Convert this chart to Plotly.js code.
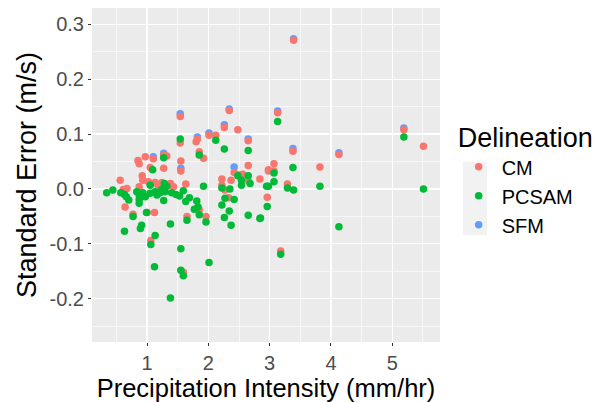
<!DOCTYPE html>
<html>
<head>
<meta charset="utf-8">
<script src="https://cdn.plot.ly/plotly-3.0.1.min.js"></script>
<style>html,body{margin:0;padding:0;background:#fff;}#chart{width:607px;height:402px;}</style>
</head>
<body>
<div id="chart"></div>
<script>
// CM series
var cmX = [1.54,2.34,2.48,1.54,1.82,1.80,2.01,2.12,2.26,2.65,1.85,1.92,0.85,0.87,0.97,1.10,1.27,1.32,1.05,1.27,1.55,2.65,2.98,3.39,3.13,5.19,5.51,3.38,4.13,3.07,3.07,3.82,2.84,3.29,2.96,3.18,1.55,2.42,2.48,2.56,0.92,0.93,0.56,1.02,1.13,1.18,1.24,1.38,1.43,1.63,2.22,2.37,2.27,2.65,0.64,0.77,1.00,1.12,1.65,1.85,1.96,2.33,0.61,0.67,0.87,2.22,1.06,1.59,2.98];
var cmY = [0.132,0.143,0.108,0.084,0.091,0.086,0.098,0.098,0.112,0.088,0.068,0.056,0.052,0.046,0.059,0.055,0.062,0.060,0.039,0.038,0.051,0.043,0.035,0.271,0.139,0.108,0.078,0.069,0.063,0.046,0.033,0.040,0.018,0.009,-0.015,-0.113,0.033,0.030,0.026,0.027,0.024,0.016,0.016,0.013,0.012,0.007,0.012,0.010,0.004,0.009,0.018,0.016,-0.002,0.015,-0.033,-0.046,-0.043,-0.043,-0.050,-0.038,-0.050,-0.016,-0.001,0.001,0.004,0.007,-0.094,-0.152,0.033];
// PCSAM series
var pcX = [1.54,2.12,2.26,2.65,1.85,1.27,1.09,3.13,5.19,3.38,3.07,2.98,3.07,3.29,3.39,3.82,5.51,2.96,2.84,4.13,3.18,2.65,2.48,2.54,2.68,2.95,2.22,2.35,1.92,1.05,0.34,0.44,0.57,0.63,0.66,0.70,0.83,0.87,0.87,0.87,0.93,0.97,1.05,1.13,1.16,1.21,1.24,1.28,1.29,1.32,1.27,1.40,1.47,1.53,1.59,1.69,1.63,1.81,1.83,1.77,1.85,1.96,1.65,1.38,0.91,0.89,0.63,0.77,0.99,2.27,2.42,2.34,2.26,2.37,2.65,2.85,2.22,1.06,1.13,1.12,1.55,1.55,1.59,2.01,1.38,2.54];
var pcY = [0.091,0.089,0.073,0.070,0.062,0.057,0.035,0.123,0.095,0.039,0.029,0.005,0.013,0.002,-0.002,0.005,0.000,-0.032,-0.054,-0.069,-0.119,0.024,0.024,0.007,0.010,0.005,0.002,0.000,0.005,0.007,-0.007,-0.002,-0.007,-0.010,-0.014,-0.020,-0.005,-0.011,-0.019,-0.026,-0.007,-0.014,-0.008,-0.005,-0.011,-0.007,-0.001,0.010,-0.005,0.005,-0.021,-0.007,-0.010,-0.013,-0.003,-0.016,-0.023,-0.022,-0.033,-0.037,-0.047,-0.060,-0.057,-0.064,-0.066,-0.072,-0.077,-0.050,-0.043,-0.017,-0.019,-0.040,-0.052,-0.066,-0.048,-0.053,-0.029,-0.101,-0.085,-0.142,-0.109,-0.148,-0.158,-0.134,-0.199,0.016];
// SFM series
var sfX = [1.54,2.34,1.82,2.01,2.26,2.65,1.10,1.27,1.55,2.42,3.39,3.13,5.19,3.38,4.13];
var sfY = [0.137,0.146,0.095,0.102,0.117,0.091,0.059,0.065,0.038,0.040,0.274,0.142,0.111,0.074,0.066];

var xTicks = [1,2,3,4,5];
var yTicks = [-0.2,-0.1,0.0,0.1,0.2,0.3];
var yTickText = ['-0.2','-0.1','0.0','0.1','0.2','0.3'];

var FONT = 'Liberation Sans, Arial, sans-serif';
var mk = function(c){return {color:c,size:7.5,line:{width:0}};};

var traces = [
  {x:sfX,y:sfY,name:'SFM',type:'scatter',mode:'markers',marker:mk('#619CFF'),legendrank:3},
  {x:cmX,y:cmY,name:'CM',type:'scatter',mode:'markers',marker:mk('#F8766D'),legendrank:1},
  {x:pcX,y:pcY,name:'PCSAM',type:'scatter',mode:'markers',marker:mk('#00BA38'),legendrank:2}
];

var layout = {
  width:607,height:402,
  margin:{l:92,r:167,t:8,b:60},
  paper_bgcolor:'#FFFFFF',
  plot_bgcolor:'#EBEBEB',
  font:{family:FONT,color:'#000'},
  showlegend:true,
  legend:{
    x:1.045,y:0.688,xanchor:'left',yanchor:'top',
    font:{size:20,color:'#000',family:FONT},
    title:{text:'Delineation',font:{size:27,color:'#000',family:FONT}},
    itemsizing:'trace',itemwidth:36,tracegroupgap:0,bgcolor:'rgba(0,0,0,0)'
  },
  xaxis:{
    range:[0.1,5.78],
    tickmode:'array',tickvals:xTicks,ticktext:xTicks.map(String),
    ticks:'outside',ticklen:3,tickwidth:1,tickcolor:'#333333',
    tickfont:{size:20,color:'#4D4D4D',family:FONT},
    showgrid:true,gridcolor:'#FFFFFF',gridwidth:1.3,
    minor:{dtick:0.5,tick0:0,showgrid:true,gridcolor:'#FFFFFF',gridwidth:0.6,ticks:''},
    zeroline:false,showline:false,
    title:{text:'Precipitation Intensity (mm/hr)',font:{size:25.5,color:'#000',family:FONT},standoff:1}
  },
  yaxis:{
    range:[-0.279,0.330],
    tickmode:'array',tickvals:yTicks,ticktext:yTickText,
    ticks:'outside',ticklen:3,tickwidth:1,tickcolor:'#333333',
    tickfont:{size:20,color:'#4D4D4D',family:FONT},
    showgrid:true,gridcolor:'#FFFFFF',gridwidth:1.3,
    minor:{dtick:0.05,tick0:0,showgrid:true,gridcolor:'#FFFFFF',gridwidth:0.6,ticks:''},
    zeroline:false,showline:false,
    title:{text:'Standard Error (m/s)',font:{size:27,color:'#000',family:FONT},standoff:5}
  },
  shapes:[
    {type:'rect',xref:'paper',yref:'paper',x0:1.066,x1:1.135,y0:0.320,y1:0.540,fillcolor:'#F2F2F2',line:{width:0},layer:'below'}
  ]
};

Plotly.newPlot('chart',traces,layout,{displayModeBar:false,staticPlot:true});
</script>
</body>
</html>
